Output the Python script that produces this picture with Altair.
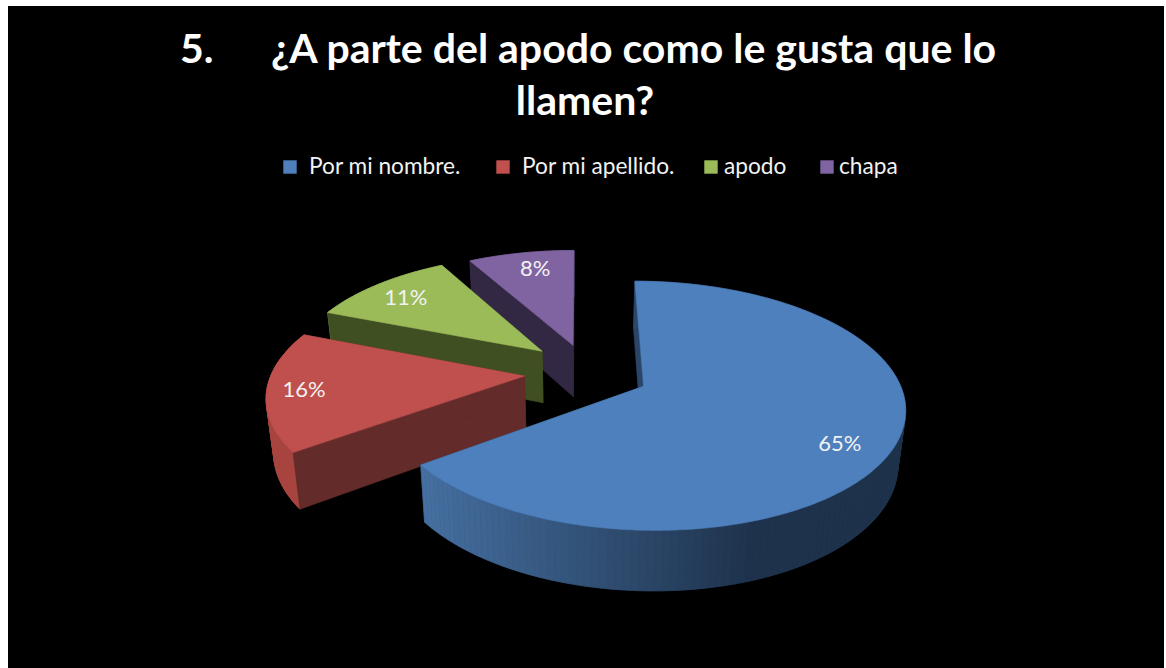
import math
import altair as alt

# Survey answers
categories = ["Por mi nombre.", "Por mi apellido.", "apodo", "chapa"]
shares = [65, 16, 11, 8]
face_colors = ["#4D80BC", "#C0504D", "#9BBB59", "#8064A2"]
side_colors = ["#2A4568", "#632B29", "#404F22", "#332843"]
rim_colors = ["#2A4568", "#A8443F", "#6E853E", "#4A3A60"]

title_number = "5."
title_lines = ["¿A parte del apodo como le gusta que lo", "llamen?"]

# Oblique view of the pie plane: a point (u, v) on the plane goes to the page
# through a one-point perspective; the rim is dropped by a y-dependent depth.
CX, CY, AX, BY, PERSP = 580.0, 372.0, 263.0, 122.0, 0.16
RADIUS = 0.96
# Each slice is pulled out of the pie by its own offset on the plane.
explode = [(0.237, 0.115), (-0.21, 0.033), (-0.148, -0.175), (-0.027, -0.225)]
# Small shifts of the percentage labels away from their radial position
label_nudge = [(-8, 9), (-9, 2), (1, 3), (6, 1)]


def to_page(u, v):
    d = 1 - PERSP * v
    return CX + AX * u / d, CY + BY * v / d


def dropped(pt):
    x, y = pt
    return CX + (x - CX) * 0.976, y + 34 + 0.05 * y


def on_rim(off, deg, r=RADIUS):
    a = math.radians(deg)
    return to_page(off[0] + r * math.sin(a), off[1] - r * math.cos(a))


def poly(points, fill):
    ring = [list(p) for p in points] + [list(points[0])]
    return {
        "type": "Feature",
        "geometry": {"type": "Polygon", "coordinates": [ring]},
        "properties": {"fill": fill},
    }


def mix(c1, c2, t):
    a = [int(c1[i:i + 2], 16) for i in (1, 3, 5)]
    b = [int(c2[i:i + 2], 16) for i in (1, 3, 5)]
    return "#%02x%02x%02x" % tuple(round(p + (q - p) * t) for p, q in zip(a, b))


def rim_fill(i, x):
    # The large slice darkens along its rim from left to right.
    if i == 0:
        return mix("#456FA0", "#1E324C", min(max((x - 424) / 330, 0), 1))
    return rim_colors[i]


# Running angle of each slice, clockwise from twelve o'clock
spans = []
start = 0.0
for s in shares:
    spans.append((start, start + 3.6 * s))
    start += 3.6 * s

features = []
labels = []
# Painted back to front so nearer slices cover the farther ones
for i in [3, 2, 1, 0]:
    a0, a1 = spans[i]
    off = explode[i]
    apex = to_page(*off)
    n = max(int((a1 - a0) / 1.5), 2)
    arc = [on_rim(off, a0 + (a1 - a0) * k / n) for k in range(n + 1)]

    cuts = [poly([apex, end, dropped(end), dropped(apex)], side_colors[i]) for end in (arc[0], arc[-1])]
    # one solid band under the rim steps, so no seam lets the background through
    rim = [poly(arc + [dropped(p) for p in reversed(arc)], rim_fill(i, arc[len(arc) // 2][0]))]
    for p, q in zip(arc, arc[1:]):
        rim.append(poly([p, q, dropped(q), dropped(p)], rim_fill(i, (p[0] + q[0]) / 2)))

    # The big slice shows its rim in front of its cuts; the others the reverse.
    features += cuts + rim if i == 0 else rim + cuts
    features.append(poly([apex] + arc, face_colors[i]))

    mid = (a0 + a1) / 2
    lx, ly = on_rim(off, mid, 0.79)
    labels.append({"x": lx + label_nudge[i][0], "y": ly + label_nudge[i][1], "text": f"{shares[i]}%"})

frame = alt.Chart(alt.Data(values=[{"k": 0}])).mark_rect(color="#000000").encode(
    x=alt.value(8), x2=alt.value(1164), y=alt.value(6), y2=alt.value(668)
)

pie = (
    alt.Chart(alt.Data(values=features))
    .mark_geoshape(strokeWidth=0.6)
    .encode(
        fill=alt.Fill("properties.fill:N", scale=None),
        stroke=alt.Stroke("properties.fill:N", scale=None),
    )
    .project(type="identity", scale=1, translate=[0, 0])
)

FONT = "Lato"
x_px = alt.X("x:Q", scale=None, axis=None)
y_px = alt.Y("y:Q", scale=None, axis=None)

slice_labels = (
    alt.Chart(alt.Data(values=labels))
    .mark_text(font=FONT, fontSize=22, color="#F2F2F2", align="center", baseline="middle")
    .encode(x=x_px, y=y_px, text="text:N")
)

heading_rows = [
    {"x": 180, "y": 51, "text": title_number},
    {"x": 271, "y": 51, "text": title_lines[0]},
    {"x": 585, "y": 103, "text": title_lines[1]},
]
heading_left = (
    alt.Chart(alt.Data(values=heading_rows[:2]))
    .mark_text(font=FONT, fontSize=41, fontWeight="bold", color="#FFFFFF", align="left", baseline="middle")
    .encode(x=x_px, y=y_px, text="text:N")
)
heading_center = (
    alt.Chart(alt.Data(values=heading_rows[2:]))
    .mark_text(font=FONT, fontSize=41, fontWeight="bold", color="#FFFFFF", align="center", baseline="middle")
    .encode(x=x_px, y=y_px, text="text:N")
)

# Legend row, laid out by hand to keep its uneven spacing
key_x = [290, 503, 711, 827]
text_x = [309, 522, 724, 839]
key_rows = [
    {"x": key_x[i], "y": 167, "fill": face_colors[i], "tx": text_x[i], "name": categories[i]}
    for i in range(4)
]
keys = (
    alt.Chart(alt.Data(values=key_rows))
    .mark_square(size=180, opacity=1)
    .encode(x=x_px, y=y_px, fill=alt.Fill("fill:N", scale=None))
)
key_text = (
    alt.Chart(alt.Data(values=key_rows))
    .mark_text(font=FONT, fontSize=22.7, color="#F2F2F2", align="left", baseline="middle")
    .encode(x=alt.X("tx:Q", scale=None, axis=None), y=y_px, text="name:N")
)

chart = (
    alt.layer(frame, pie, slice_labels, heading_left, heading_center, keys, key_text)
    .properties(width=1166, height=668, background="#FFFFFF", padding=0,
                autosize=alt.AutoSizeParams(type="none"))
    .configure_view(stroke=None)
)

chart.save("out.html", embed_options={"renderer": "svg", "actions": False})
